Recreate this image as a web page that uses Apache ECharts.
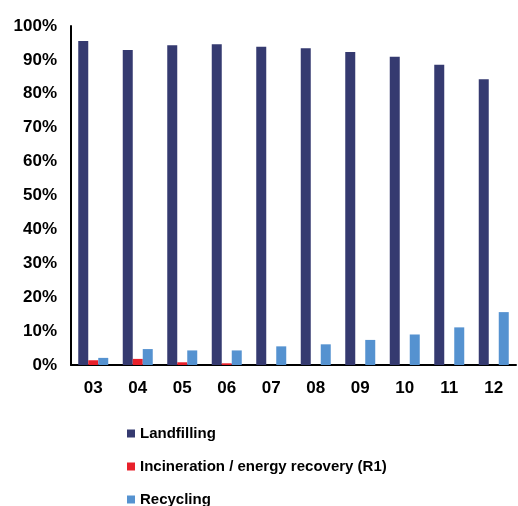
<!doctype html>
<html lang="en">
  <head>
    <meta charset="utf-8">
    <title>Waste treatment shares</title>
    <script src="https://cdn.jsdelivr.net/npm/echarts@6/dist/echarts.min.js"></script>
    <style>
      html, body { margin: 0; padding: 0; background: #fff; }
      #chart { width: 518px; height: 506px; }
    </style>
  </head>
  <body>
    <div id="chart"></div>
    <script>
    // data (percent)
    var years = ['03', '04', '05', '06', '07', '08', '09', '10', '11', '12'];
    var landfilling = [95.6, 92.9, 94.3, 94.6, 93.9, 93.4, 92.3, 90.9, 88.6, 84.3];
    var incineration = [1.4, 1.8, 0.8, 0.5, 0, 0, 0, 0, 0, 0];
    var recycling = [2.1, 4.7, 4.3, 4.3, 5.5, 6.1, 7.4, 9.0, 11.1, 15.6];

    var chart = echarts.init(document.getElementById('chart'), null, { renderer: 'canvas' });

    var font = 'Liberation Sans, Arial, sans-serif';

    var option = {
      animation: false,
      grid: { left: 71, right: 2, top: 26, bottom: 141 },
      legend: {
        orient: 'vertical',
        left: 122,
        top: 421,
        height: 90,
        itemWidth: 8,
        itemHeight: 8,
        itemGap: 18,
        icon: 'rect',
        textStyle: { fontFamily: font, fontSize: 15, fontWeight: 'bold', color: '#000' },
        data: ['Landfilling', 'Incineration / energy recovery (R1)', 'Recycling']
      },
      xAxis: {
        type: 'category',
        data: years,
        axisLine: { lineStyle: { color: '#000', width: 2 } },
        axisTick: { show: false },
        axisLabel: { fontFamily: font, fontSize: 17, fontWeight: 'bold', color: '#000', margin: 15 }
      },
      yAxis: {
        type: 'value',
        min: 0,
        max: 100,
        interval: 10,
        splitLine: { show: false },
        axisLine: { show: true, lineStyle: { color: '#000', width: 2 } },
        axisTick: { show: false },
        axisLabel: { fontFamily: font, fontSize: 17, fontWeight: 'bold', color: '#000', margin: 14, formatter: '{value}%' }
      },
      series: [
        { name: 'Landfilling', type: 'bar', data: landfilling, barWidth: 10, barGap: '0%',
          itemStyle: { color: '#353a70' } },
        { name: 'Incineration / energy recovery (R1)', type: 'bar', data: incineration, barWidth: 10, barGap: '0%',
          itemStyle: { color: '#e8202a' } },
        { name: 'Recycling', type: 'bar', data: recycling, barWidth: 10, barGap: '0%',
          itemStyle: { color: '#5592d0' } }
      ]
    };

    chart.setOption(option);
    window.addEventListener('resize', chart.resize);
    </script>
  </body>
</html>
